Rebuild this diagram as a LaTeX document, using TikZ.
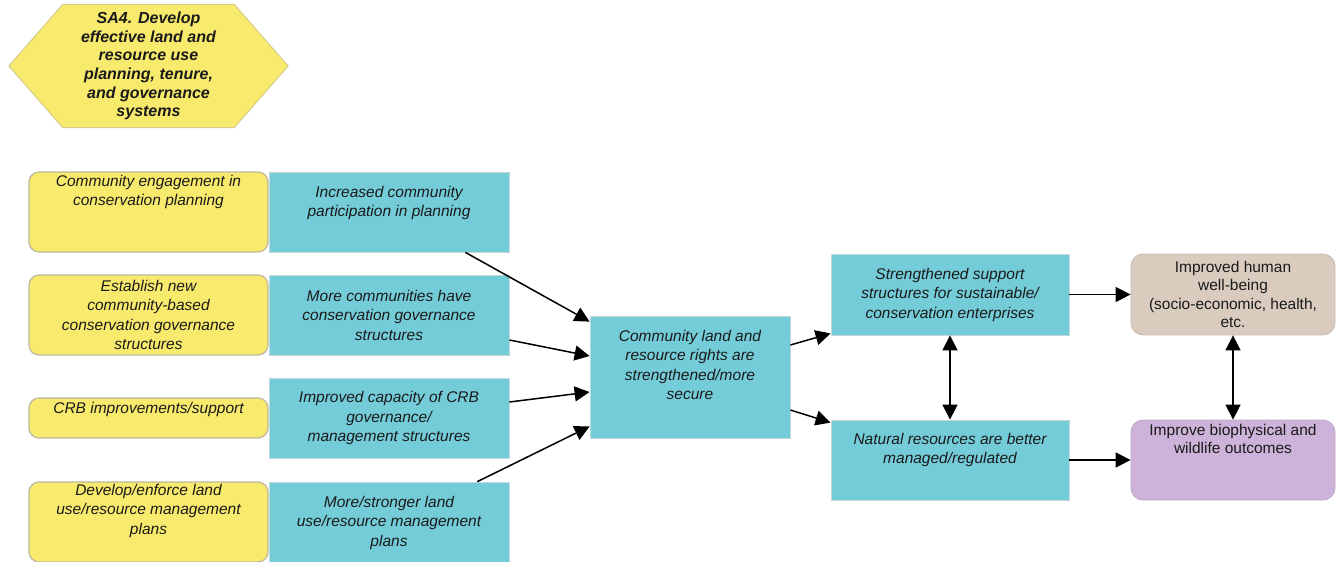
\documentclass[tikz,border=0pt]{standalone}
\usepackage{fontspec}
\setmainfont{Liberation Sans}
\usetikzlibrary{arrows.meta,positioning,calc,backgrounds}
\definecolor{sunYellow}{HTML}{F8EA6C}
\definecolor{yellowEdge}{HTML}{BDB79E}
\definecolor{hexEdge}{HTML}{D6CD8C}
\definecolor{tealBox}{HTML}{74CCD8}
\definecolor{tealEdge}{HTML}{C4D8DC}
\definecolor{sandBox}{HTML}{D9CCBF}
\definecolor{lilacBox}{HTML}{CDB3D9}
\definecolor{inkText}{HTML}{1A1A1A}

\begin{document}
\begin{tikzpicture}[
    x=1pt,y=-1pt,
    >={Triangle[length=15pt,width=15pt]},
    every node/.style={font=\fontsize{15.5}{19.5}\selectfont\itshape,text=inkText,align=center},
    action/.style={rectangle,rounded corners=10pt,draw=yellowEdge,line width=1.2pt,fill=sunYellow,minimum width=239pt,minimum height=80pt},
    result/.style={rectangle,draw=tealEdge,line width=0.8pt,fill=tealBox,minimum width=240pt,minimum height=80pt},
    impact/.style={rectangle,rounded corners=12pt,line width=0.8pt,minimum width=204pt,minimum height=81pt,font=\fontsize{15.5}{18.5}\selectfont},
    toptext/.style={inner ysep=0pt},
    flow/.style={->,line width=1.5pt,black}
  ]
  \useasboundingbox (0,0) rectangle (1336,562);
  %% Strategic approach banner
  \node[font=\fontsize{16}{18.6}\selectfont\bfseries\itshape,minimum width=279pt,minimum height=123pt] (sa4) at (148.5,66)
    {SA4. Develop\\effective land and\\resource use\\planning, tenure,\\and governance\\systems};
  \begin{scope}[on background layer]
    \filldraw[fill=sunYellow,draw=hexEdge,line width=1pt] (sa4.west) -- ([xshift=54pt]sa4.north west) -- ([xshift=-54pt]sa4.north east)
      -- (sa4.east) -- ([xshift=-54pt]sa4.south east) -- ([xshift=54pt]sa4.south west) -- cycle;
  \end{scope}
  %% Actions
  \node[action,toptext,text height=33.5pt,text depth=46.5pt] (act1) at (148.5,212) {Community engagement in\\conservation planning};
  \node[action] (act2) at (148.5,315) {Establish new\\community-based\\conservation governance\\structures};
  \node[action,toptext,minimum height=40pt,text height=15pt,text depth=25pt] (act3) at (148.5,418) {CRB improvements/support};
  \node[action,toptext,text height=52pt,text depth=28pt] (act4) at (148.5,522) {Develop/enforce land\\use/resource management\\plans};
  %% Direct results
  \node[result,toptext,text height=44.5pt,text depth=35.5pt] (res1) at (389,212) {Increased community\\participation in planning};
  \node[result] (res2) at (389,315) {More communities have\\conservation governance\\structures};
  \node[result] (res3) at (389,418) {Improved capacity of CRB\\governance/\\management structures};
  \node[result,toptext,text height=64pt,text depth=16pt] (res4) at (389,522) {More/stronger land\\use/resource management\\plans};
  %% Intermediate results
  \node[result,toptext,minimum width=200pt,minimum height=122pt,text height=83.5pt,text depth=38.5pt] (rights) at (690,377)
    {Community land and\\resource rights are\\strengthened/more\\secure};
  \node[result,minimum width=238pt,minimum height=81pt] (support) at (950,294.5)
    {Strengthened support\\structures for sustainable/\\conservation enterprises};
  \node[result,toptext,minimum width=238pt,text height=43.5pt,text depth=36.5pt] (natres) at (950,460)
    {Natural resources are better\\managed/regulated};
  %% Goals
  \node[impact,draw=sandBox!80!gray,fill=sandBox] (wellbeing) at (1233,294.5)
    {Improved human\\well-being\\(socio-economic, health,\\etc.};
  \node[impact,toptext,draw=lilacBox!80!gray,fill=lilacBox,minimum height=80pt,text height=33.5pt,text depth=46.5pt] (biophys) at (1233,460)
    {Improve biophysical and\\wildlife outcomes};
  %% Links
  \draw[flow] ([xshift=-44pt]res1.south east) -- ([yshift=-6pt]rights.north west);
  \draw[flow] ([yshift=-25pt]res2.east) -- ([yshift=21pt]rights.west);
  \draw[flow] ([yshift=16pt]res3.east) -- ([yshift=-15pt]rights.west);
  \draw[flow] ([xshift=-32pt]res4.north east) -- ([yshift=12pt]rights.south west);
  \draw[flow] ([yshift=32pt]rights.east) -- ([yshift=2pt]support.south west);
  \draw[flow] ([yshift=-33pt]rights.east) -- ([yshift=-3pt]natres.north west);
  \draw[flow,<->] (support) -- (natres);
  \draw[flow] (support) -- (wellbeing);
  \draw[flow] (natres) -- (biophys);
  \draw[flow,<->] (wellbeing) -- (biophys);
\end{tikzpicture}
\end{document}
